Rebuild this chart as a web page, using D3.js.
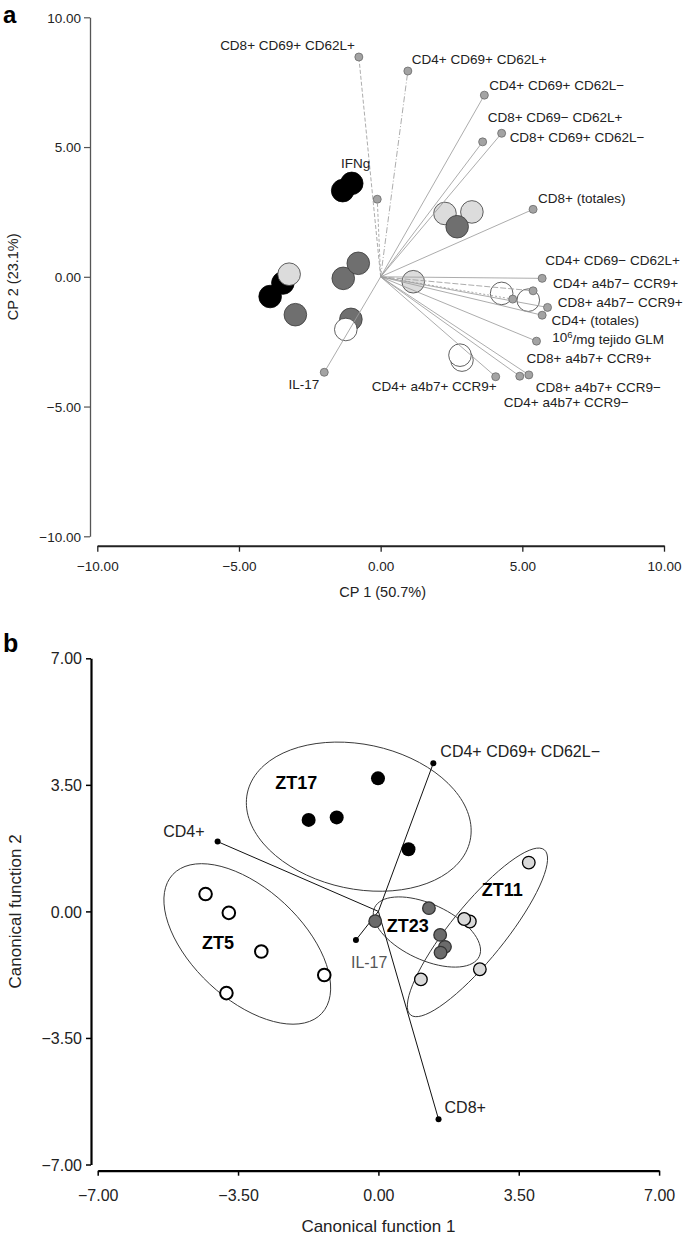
<!DOCTYPE html>
<html><head><meta charset="utf-8">
<script src="https://cdn.jsdelivr.net/npm/d3@7/dist/d3.min.js"></script>
<style>
html,body{margin:0;padding:0;background:#fff;}
svg{display:block;font-family:"Liberation Sans",Arial,Helvetica,sans-serif;}
</style></head>
<body><svg id="c" width="685" height="1236"></svg>
<script>
// ---------------- DATA: panel a (PCA biplot) ----------------
const aTicks = [-10, -5, 0, 5, 10];
const aVarNames = ["CD8+ CD69+ CD62L+","CD4+ CD69+ CD62L+","CD4+ CD69+ CD62L\u2212","CD8+ CD69\u2212 CD62L+",
  "CD8+ CD69+ CD62L\u2212","IFNg","CD8+ (totales)","CD4+ CD69\u2212 CD62L+","CD4+ a4b7\u2212 CCR9+",
  "CD8+ a4b7\u2212 CCR9+","CD4+ (totales)","10^6/mg tejido GLM","CD8+ a4b7+ CCR9+","CD8+ a4b7+ CCR9\u2212",
  "CD4+ a4b7+ CCR9\u2212","CD4+ a4b7+ CCR9+","IL-17"];
const aVarX = [-0.77, 0.96, 3.66, 3.60, 4.27, -0.12, 5.38, 5.70, 5.38, 4.66, 5.89, 5.70, 5.50, 5.23, 4.91, 4.06, -1.99];
const aVarY = [8.47, 7.93, 7.00, 5.20, 5.53, 2.99, 2.60, -0.06, -0.54, -0.86, -1.18, -1.48, -2.48, -3.78, -3.83, -3.85, -3.68];

const aSampleGroup = ["ZT17","ZT17","ZT17","ZT17",
  "ZT11","ZT11","ZT11","ZT11",
  "ZT23","ZT23","ZT23","ZT23","ZT23",
  "ZT5","ZT5","ZT5","ZT5","ZT5"];
const aSampleX = [-1.02,-1.34,-3.90,-3.45,  -3.23,1.15,2.27,3.22,  -3.01,-1.32,-0.79,-1.05,2.70,  -1.23,4.27,5.21,2.87,2.80];
const aSampleY = [3.60,3.32,-0.76,-0.24,   0.10,-0.19,2.44,2.50,  -1.46,-0.06,0.52,-1.64,1.93,  -2.03,-0.64,-0.90,-3.21,-3.02];

// ---------------- DATA: panel b (discriminant analysis) ----------------
const bTicks = [-7, -3.5, 0, 3.5, 7];
const bGroups = ["ZT17","ZT5","ZT23","ZT11"];
const bSampleGroup = ["ZT17","ZT17","ZT17","ZT17",
  "ZT5","ZT5","ZT5","ZT5","ZT5",
  "ZT23","ZT23","ZT23","ZT23","ZT23",
  "ZT11","ZT11","ZT11","ZT11","ZT11"];
const bSampleX = [-0.01,-1.74,-1.04,0.75,  -4.31,-3.73,-2.92,-1.35,-3.79,  -0.08,1.26,1.54,1.66,1.55,  2.28,2.14,3.75,2.53,1.06];
const bSampleY = [3.68,2.53,2.60,1.72,   0.48,-0.04,-1.11,-1.76,-2.26,  -0.27,0.09,-0.65,-0.98,-1.14,  -0.28,-0.21,1.35,-1.60,-1.88];
const bVarNames = ["CD4+ CD69+ CD62L\u2212","CD4+","IL-17","CD8+"];
const bVarX = [1.37, -4.01, -0.56, 1.50];
const bVarY = [4.10, 1.93, -0.79, -5.75];
// group ellipses (centre and semi-axes in canonical units, tilt in degrees)
const bEllCx = [-0.49, -3.27, 1.21, 2.47];
const bEllCy = [2.62, -0.90, -0.57, -0.58];
const bEllA  = [2.84, 2.54, 1.44, 2.65];
const bEllB  = [2.00, 1.52, 0.77, 0.75];
const bEllAng = [12, 43, 25, -51];
const bGroupLabelX = [-2.05, -4.00, 0.73, 3.09];
const bGroupLabelY = [3.56, -0.87, -0.40, 0.59];

// ---------------- STYLE ----------------
const aFill = {ZT17:"#000000", ZT11:"#dcdcdc", ZT23:"#6f6f6f", ZT5:"#ffffff"};
const bFill = {ZT17:"#000000", ZT11:"#d9d9d9", ZT23:"#6b6b6b", ZT5:"#ffffff"};
const aDash = ["4,2","6,2,1,2",null,null,null,"3,2",null,null,"6,2","2,2",null,null,null,null,null,null,null];
// label offsets [dx, dy, anchor] in px from the variable point
const aLabOff = [[-4,-12,"end"],[4,-12,"start"],[5,-10,"start"],[5,-25,"start"],[8,4,"start"],
  [-7,-36,"end"],[5,-11,"start"],[3,-18,"start"],[20,-8,"start"],[45,3,"start"],[4,13,"start"],
  [10,22,"start"],[-10,17,"start"],[7,12,"start"],[-16,26,"start"],[1,10,"end"],[-5,12,"end"]];
const bLabOff = [[7,-12,"start"],[-13,-10,"end"],[-5,22,"start"],[6,-12,"start"]];

const svg = d3.select("#c");
const fmt = d3.format(".2f");

// ================= PANEL A =================
const xA = d3.scaleLinear().domain([-10,10]).range([97.3,664]);
const yA = d3.scaleLinear().domain([-10,10]).range([536.3,17.3]);
const gA = svg.append("g");

// y axis
const yAxA = gA.append("g").attr("transform","translate(90,0)")
  .call(d3.axisLeft(yA).tickValues(aTicks).tickFormat(fmt).tickSize(6).tickSizeOuter(0));
yAxA.select(".domain").attr("stroke","#555").attr("stroke-width",1.3);
yAxA.selectAll(".tick line").attr("stroke","#555").attr("stroke-width",1.2);
yAxA.selectAll(".tick text").attr("x",-9).attr("dy","0.35em").attr("font-size",13.5).attr("fill","#222")
  .attr("font-family","Liberation Sans, Arial, sans-serif");
// x axis
const xAxA = gA.append("g").attr("transform","translate(0,545.7)")
  .call(d3.axisBottom(xA).tickValues(aTicks).tickFormat(fmt).tickSize(6).tickSizeOuter(0));
xAxA.select(".domain").attr("stroke","#222").attr("stroke-width",2);
xAxA.selectAll(".tick line").attr("stroke","#222").attr("stroke-width",1.3);
xAxA.selectAll(".tick text").attr("y",20.5).attr("dy","0.35em").attr("font-size",13.5).attr("fill","#222")
  .attr("font-family","Liberation Sans, Arial, sans-serif");

gA.append("text").attr("x",xA(0)+2).attr("y",592).attr("dy","0.35em").attr("text-anchor","middle")
  .attr("font-size",14.5).attr("fill","#222").text("CP 1 (50.7%)");
gA.append("text").attr("transform",`translate(13,${yA(0)}) rotate(-90)`).attr("dy","0.35em")
  .attr("text-anchor","middle").attr("font-size",14.5).attr("fill","#222").text("CP 2 (23.1%)");
gA.append("text").attr("x",3).attr("y",23).attr("font-size",24).attr("font-weight","bold").text("a");

// sample circles
gA.append("g").selectAll("circle").data(aSampleGroup).join("circle")
  .attr("cx",(d,i)=>xA(aSampleX[i])).attr("cy",(d,i)=>yA(aSampleY[i])).attr("r",11.3)
  .attr("fill",d=>aFill[d]).attr("stroke",d=>d==="ZT17"?"#000":"#3a3a3a").attr("stroke-width",0.8);

// variable vectors
gA.append("g").selectAll("line").data(aVarNames).join("line")
  .attr("x1",xA(0)).attr("y1",yA(0))
  .attr("x2",(d,i)=>xA(aVarX[i])).attr("y2",(d,i)=>yA(aVarY[i]))
  .attr("stroke","#9d9d9d").attr("stroke-width",0.85)
  .attr("stroke-dasharray",(d,i)=>aDash[i]);
gA.append("g").selectAll("circle").data(aVarNames).join("circle")
  .attr("cx",(d,i)=>xA(aVarX[i])).attr("cy",(d,i)=>yA(aVarY[i])).attr("r",4)
  .attr("fill","#a3a3a3").attr("stroke","#6a6a6a").attr("stroke-width",0.8);

const labA = gA.append("g").selectAll("text").data(aVarNames).join("text")
  .attr("x",(d,i)=>xA(aVarX[i])+aLabOff[i][0]).attr("y",(d,i)=>yA(aVarY[i])+aLabOff[i][1])
  .attr("dy","0.35em").attr("text-anchor",(d,i)=>aLabOff[i][2])
  .attr("font-size",13.5).attr("fill","#222");
labA.each(function(d){
  const t = d3.select(this);
  if (d.startsWith("10^6")) {
    t.append("tspan").text("10");
    t.append("tspan").attr("font-size",9.5).attr("dy","-0.45em").text("6");
    t.append("tspan").attr("dy","0.45em").text(d.slice(4));
  } else t.text(d);
});

// ================= PANEL B =================
const xB = d3.scaleLinear().domain([-7,7]).range([97.7,659.1]);
const yB = d3.scaleLinear().domain([-7,7]).range([1164.5,658.3]);
const gB = svg.append("g");

const yAxB = gB.append("g").attr("transform","translate(91,0)")
  .call(d3.axisLeft(yB).tickValues(bTicks).tickFormat(fmt).tickSize(5).tickSizeOuter(0));
yAxB.select(".domain").attr("stroke","#000").attr("stroke-width",2.2);
yAxB.selectAll(".tick line").attr("stroke","#000").attr("stroke-width",1.5);
yAxB.selectAll(".tick text").attr("x",-9).attr("dy","0.35em").attr("font-size",16).attr("fill","#222")
  .attr("font-family","Liberation Sans, Arial, sans-serif");
const xAxB = gB.append("g").attr("transform","translate(0,1170.7)")
  .call(d3.axisBottom(xB).tickValues(bTicks).tickFormat(fmt).tickSize(5).tickSizeOuter(0));
xAxB.select(".domain").attr("stroke","#000").attr("stroke-width",2.2);
xAxB.selectAll(".tick line").attr("stroke","#000").attr("stroke-width",1.5);
xAxB.selectAll(".tick text").attr("y",25).attr("dy","0.35em").attr("font-size",16).attr("fill","#222")
  .attr("font-family","Liberation Sans, Arial, sans-serif");

gB.append("text").attr("x",xB(0)).attr("y",1226.5).attr("dy","0.35em").attr("text-anchor","middle")
  .attr("font-size",17).attr("fill","#222").text("Canonical function 1");
gB.append("text").attr("transform",`translate(15,${yB(0)}) rotate(-90)`).attr("dy","0.35em")
  .attr("text-anchor","middle").attr("font-size",17).attr("fill","#222").text("Canonical function 2");
gB.append("text").attr("x",3).attr("y",652).attr("font-size",25).attr("font-weight","bold").text("b");

// ellipses
const kx = xB(1)-xB(0), ky = yB(0)-yB(1);
const ellLine = d3.line().curve(d3.curveCardinalClosed);
gB.append("g").selectAll("path").data(bGroups).join("path")
  .attr("d",(d,i)=>{
    const cx = xB(bEllCx[i]), cy = yB(bEllCy[i]);
    const a = bEllA[i]*kx, b = bEllB[i]*ky, th = bEllAng[i]*Math.PI/180;
    const pts = d3.range(0, 360, 5).map(t=>{
      const r = t*Math.PI/180, u = a*Math.cos(r), v = b*Math.sin(r);
      return [cx + u*Math.cos(th) - v*Math.sin(th), cy + u*Math.sin(th) + v*Math.cos(th)];
    });
    return ellLine(pts);
  })
  .attr("fill","none").attr("stroke","#3a3a3a").attr("stroke-width",1);

// vectors
gB.append("g").selectAll("line").data(bVarNames).join("line")
  .attr("x1",xB(0)).attr("y1",yB(0)).attr("x2",(d,i)=>xB(bVarX[i])).attr("y2",(d,i)=>yB(bVarY[i]))
  .attr("stroke","#111").attr("stroke-width",1);
gB.append("g").selectAll("circle").data(bVarNames).join("circle")
  .attr("cx",(d,i)=>xB(bVarX[i])).attr("cy",(d,i)=>yB(bVarY[i])).attr("r",3)
  .attr("fill","#000");
gB.append("g").selectAll("text").data(bVarNames).join("text")
  .attr("x",(d,i)=>xB(bVarX[i])+bLabOff[i][0]).attr("y",(d,i)=>yB(bVarY[i])+bLabOff[i][1])
  .attr("dy","0.35em").attr("text-anchor",(d,i)=>bLabOff[i][2])
  .attr("font-size",16).attr("fill",d=>d==="IL-17"?"#555":"#222").text(d=>d);

// samples
gB.append("g").selectAll("circle").data(bSampleGroup).join("circle")
  .attr("cx",(d,i)=>xB(bSampleX[i])).attr("cy",(d,i)=>yB(bSampleY[i]))
  .attr("r",d=>d==="ZT17"?7:6.3)
  .attr("fill",d=>bFill[d])
  .attr("stroke",d=>d==="ZT23"?"#333":"#000")
  .attr("stroke-width",d=>d==="ZT5"?2:(d==="ZT17"?0:1.3));

// group labels
gB.append("g").selectAll("text").data(bGroups).join("text")
  .attr("x",(d,i)=>xB(bGroupLabelX[i])).attr("y",(d,i)=>yB(bGroupLabelY[i]))
  .attr("dy","0.35em").attr("text-anchor","middle")
  .attr("font-size",18).attr("font-weight","bold").attr("fill","#000").text(d=>d);
</script></body></html>
